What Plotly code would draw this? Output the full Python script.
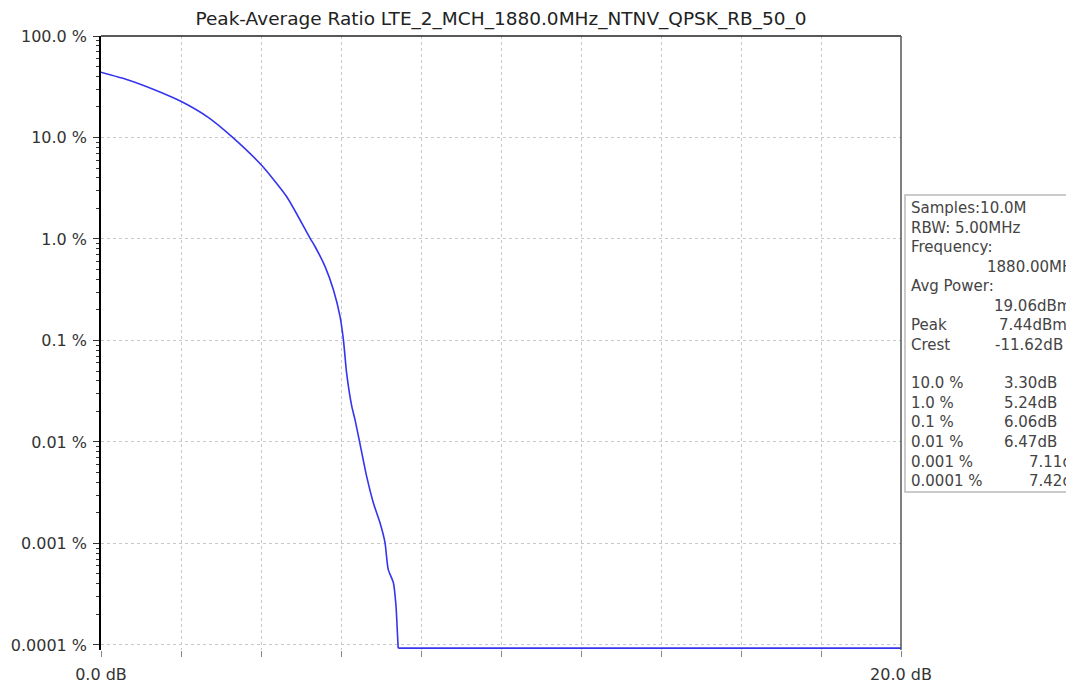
"""
Peak-average ratio (CCDF) chart for an LTE channel measurement.
"""
import plotly.graph_objects as go

# curve: power above average (dB) vs probability (%)
ratio_db = [0.0, 0.68, 1.35, 2.02, 2.68, 3.27, 4.02, 4.64, 5.225, 5.35, 5.6,
            5.81, 5.975, 6.06, 6.14, 6.27, 6.35, 6.47, 6.64, 6.81, 6.975,
            7.10, 7.18, 7.31, 7.375, 7.41, 7.43, 20.0]
prob_pct = [44.0, 36.9, 29.4, 22.5, 15.8, 10.2, 5.3, 2.62, 1.02, 0.843, 0.537,
            0.316, 0.173, 0.102, 0.048, 0.0224, 0.0166, 0.0098, 0.0046, 0.0025,
            0.0016, 0.00102, 0.000555, 0.00041, 0.000242, 0.000132, 0.000093,
            0.000093]

x_ticks = [0, 2, 4, 6, 8, 10, 12, 14, 16, 18, 20]
x_ticktext = ["0.0 dB", "", "", "", "", "", "", "", "", "", "20.0 dB"]
y_ticks = [0.0001, 0.001, 0.01, 0.1, 1, 10, 100]
y_ticktext = ["0.0001 %", "0.001 %", "0.01 %", "0.1 %", "1.0 %", "10.0 %", "100.0 %"]

# info panel on the right
info_labels = ["Samples:10.0M", "RBW: 5.00MHz", "Frequency:", "", "Avg Power:", "",
               "Peak", "Crest", "", "10.0 %", "1.0 %", "0.1 %", "0.01 %",
               "0.001 %", "0.0001 %"]
info_values = ["", "", "", "1880.00MHz", "", "19.06dBm", "7.44dBm", "-11.62dB", "",
               "3.30dB", "5.24dB", "6.06dB", "6.47dB", "7.11dB", "7.42dB"]
value_px = [0, 0, 0, 985, 0, 992, 997, 993, 0, 1002, 1002, 1002, 1002, 1027, 1027]

W, H = 1066, 686
L, R, T, B = 101, 901, 36, 650   # plot area in pixels
FONT = "DejaVu Sans"
TXT = "#333333"
BLUE = "#3535ee"


def px_x(px):
    return (px - L) / (R - L)


def px_y(py):
    return (B - py) / (B - T)


fig = go.Figure()
# smooth falling part, then the flat floor after the last sample
fig.add_trace(go.Scatter(
    x=ratio_db[:-1], y=prob_pct[:-1], mode="lines",
    line=dict(color=BLUE, width=1.6, shape="spline", smoothing=0.6),
    showlegend=False, hoverinfo="skip",
))
fig.add_trace(go.Scatter(
    x=ratio_db[-2:], y=prob_pct[-2:], mode="lines",
    line=dict(color=BLUE, width=1.6),
    showlegend=False, hoverinfo="skip",
))

minor_vals = [m * 10.0 ** k for k in range(-4, 2) for m in range(2, 10)]

fig.update_layout(
    width=W, height=H,
    margin=dict(l=L, r=W - R, t=T, b=H - B, pad=0),
    paper_bgcolor="white", plot_bgcolor="white",
    font=dict(family=FONT, size=16, color=TXT),
    title=dict(text="Peak-Average Ratio LTE_2_MCH_1880.0MHz_NTNV_QPSK_RB_50_0",
               x=px_x(501), xref="paper", xanchor="center",
               y=1 - 19 / H, yanchor="middle",
               font=dict(family=FONT, size=18.5, color="#222222")),
    xaxis=dict(range=[0, 20], tickmode="array", tickvals=x_ticks, ticktext=x_ticktext,
               ticks="outside", ticklen=6, tickcolor="#888888", showline=False,
               showgrid=True, gridcolor="#c8c8c8", griddash="dot", zeroline=False,
               automargin=False, ticklabelstandoff=4,
               tickfont=dict(size=16, color=TXT)),
    yaxis=dict(type="log", range=[-4.05, 2], tickmode="array", tickvals=y_ticks,
               ticktext=y_ticktext, ticks="outside", ticklen=6, tickcolor="#333333",
               showline=True, linecolor="black", linewidth=1.5,
               showgrid=True, gridcolor="#c8c8c8", griddash="dot", zeroline=False,
               minor=dict(tickmode="array", tickvals=minor_vals, ticks="outside",
                          ticklen=3, tickcolor="#333333", showgrid=False),
               automargin=False, ticklabelstandoff=3,
               tickfont=dict(size=16, color=TXT)),
)

# frame: top and right borders, black baseline at 0.0001 %
fig.add_shape(type="line", xref="paper", yref="paper", x0=0, x1=1, y0=1, y1=1,
              line=dict(color="#222222", width=1.5))
fig.add_shape(type="line", xref="paper", yref="paper", x0=1, x1=1, y0=0, y1=1,
              line=dict(color="#555555", width=1.5))
fig.add_shape(type="line", xref="paper", yref="y", x0=0, x1=1, y0=-4, y1=-4,
              line=dict(color="black", width=1.5))

# info box
fig.add_shape(type="rect", xref="paper", yref="paper",
              x0=px_x(905), x1=px_x(1090), y0=px_y(492), y1=px_y(195),
              line=dict(color="#bbbbbb", width=1.5), fillcolor="white", layer="below")

for i, (lab, val) in enumerate(zip(info_labels, info_values)):
    yy = px_y(208 + i * 19.5)
    if lab:
        fig.add_annotation(text=lab, xref="paper", yref="paper", x=px_x(909), y=yy,
                           xanchor="left", yanchor="middle", showarrow=False,
                           font=dict(family=FONT, size=15, color="#444444"))
    if val:
        fig.add_annotation(text=val, xref="paper", yref="paper", x=px_x(value_px[i]), y=yy,
                           xanchor="left", yanchor="middle", showarrow=False,
                           font=dict(family=FONT, size=15, color="#444444"))

# drop the default 8px body margin so the figure sits at the window corner
fig.write_html("out.html", config={"displayModeBar": False},
               post_script="document.body.style.margin='0';"
                           "document.body.style.overflow='hidden';")
